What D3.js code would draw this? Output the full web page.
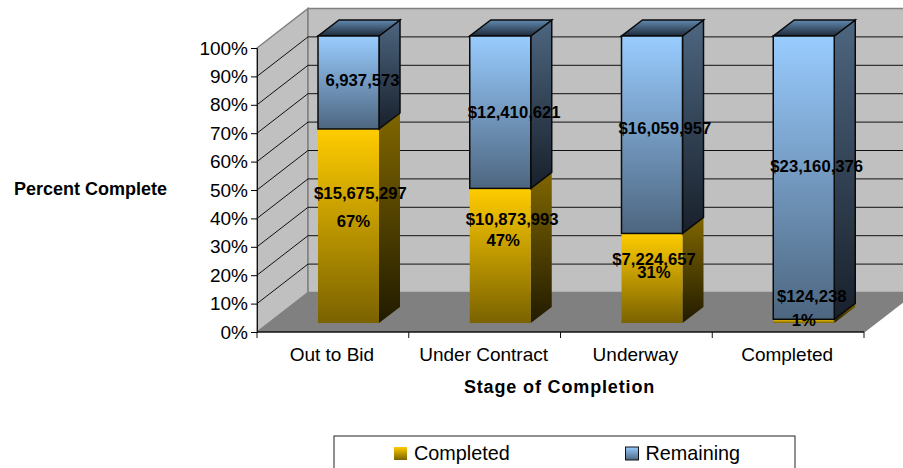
<!DOCTYPE html>
<html>
<head>
<meta charset="utf-8">
<script src="https://cdn.jsdelivr.net/npm/d3@7"></script>
<style>
  body { margin: 0; background: #fff; }
  svg { display: block; }
  text { font-family: "Liberation Sans", Arial, sans-serif; fill: #000; }
  .tick text { font-size: 19px; }
  .bar-label { font-size: 16.7px; font-weight: bold; text-anchor: middle; dominant-baseline: central; }
  .axis-title { font-size: 18px; font-weight: bold; }
</style>
</head>
<body>
<div id="chart"></div>
<script>
const categories = ['Out to Bid', 'Under Contract', 'Underway', 'Completed'];
const completedShare = [67.6, 46.9, 31.2, 1.3];
const completedDollars = ['$15,675,297', '$10,873,993', '$7,224,657', '$124,238'];
const completedPct = ['67%', '47%', '31%', '1%'];
const remainingDollars = ['6,937,573', '$12,410,621', '$16,059,957', '$23,160,376'];
const yTicks = d3.range(0, 101, 10);

const width = 903;
const height = 468;
const svg = d3.select('#chart').append('svg')
  .attr('width', width)
  .attr('height', height);

// plot box and the fake 3d offset of the back wall
const plotL = 257, plotR = 864, plotB = 332, plotT = 48;
const depthX = 51, depthY = -39.5;

const x = d3.scaleBand().domain(categories).range([plotL, plotR]);
const y = d3.scaleLinear().domain([0, 100]).range([plotB, plotT]);
// bars sit a bit inside the floor so they get their own vertical scale
const barY = d3.scaleLinear().domain([0, 100]).range([323, 36]);
const barInset = 61, barW = 61, barDx = 21, barDy = -16;

// gradients
const defs = svg.append('defs');
function gradient(id, c1, c2) {
  const g = defs.append('linearGradient').attr('id', id)
    .attr('x1', 0).attr('y1', 0).attr('x2', 0).attr('y2', 1);
  g.append('stop').attr('offset', '0%').attr('stop-color', c1);
  g.append('stop').attr('offset', '100%').attr('stop-color', c2);
}
gradient('yellowFront', '#FFCC00', '#7A6200');
gradient('yellowSide', '#806600', '#211B00');
gradient('blueFront', '#99CCFF', '#4D6680');
gradient('blueSide', '#4D6680', '#18202B');
gradient('blueTop', '#628AB0', '#1E2A38');

const pts = a => a.map(p => p.join(',')).join(' ');

// walls and floor
const walls = svg.append('g');
walls.append('polygon')
  .attr('points', pts([[plotL, plotT], [plotL + depthX, plotT + depthY], [plotL + depthX, plotB + depthY], [plotL, plotB]]))
  .attr('fill', '#C0C0C0').attr('stroke', '#808080').attr('stroke-width', 1.5);
walls.append('polygon')
  .attr('points', pts([[plotL + depthX, plotT + depthY], [plotR + depthX, plotT + depthY], [plotR + depthX, plotB + depthY], [plotL + depthX, plotB + depthY]]))
  .attr('fill', '#C0C0C0').attr('stroke', '#808080').attr('stroke-width', 1.5);

// gridlines, side wall then back wall
const inner = yTicks.slice(1, -1);
const grid = svg.append('g').attr('stroke', '#111').attr('stroke-width', 1);
grid.selectAll('.side').data(inner).join('line')
  .attr('class', 'side')
  .attr('x1', plotL).attr('x2', plotL + depthX)
  .attr('y1', d => y(d)).attr('y2', d => y(d) + depthY);
grid.selectAll('.back').data(inner).join('line')
  .attr('class', 'back')
  .attr('x1', plotL + depthX).attr('x2', plotR + depthX)
  .attr('y1', d => y(d) + depthY).attr('y2', d => y(d) + depthY);

const floor = svg.append('g');
floor.append('polygon')
  .attr('points', pts([[plotL, plotB], [plotR, plotB], [plotR + depthX, plotB + depthY], [plotL + depthX, plotB + depthY]]))
  .attr('fill', '#808080');
floor.append('line')
  .attr('x1', plotR).attr('y1', plotB).attr('x2', plotR + depthX).attr('y2', plotB + depthY)
  .attr('stroke', '#808080').attr('stroke-width', 1.5);

// one 3d segment: front, side, and optional lid
function segment(g, cat, from, to, fills, stroke, lid) {
  const x0 = x(cat) + barInset, x1 = x0 + barW;
  const yA = barY(from), yB = barY(to);
  g.append('polygon')
    .attr('points', pts([[x1, yB], [x1 + barDx, yB + barDy], [x1 + barDx, yA + barDy], [x1, yA]]))
    .attr('fill', `url(#${fills.side})`).attr('stroke', stroke).attr('stroke-width', 1.5);
  if (lid) {
    g.append('polygon')
      .attr('points', pts([[x0, yB], [x1, yB], [x1 + barDx, yB + barDy], [x0 + barDx, yB + barDy]]))
      .attr('fill', 'url(#blueTop)').attr('stroke', stroke).attr('stroke-width', 1.5);
  }
  g.append('rect')
    .attr('x', x0).attr('y', yB)
    .attr('width', barW).attr('height', yA - yB)
    .attr('fill', `url(#${fills.front})`).attr('stroke', stroke).attr('stroke-width', 1.5);
}

const bars = svg.append('g');
categories.forEach((c, i) => {
  const g = bars.append('g');
  segment(g, c, 0, completedShare[i], { front: 'yellowFront', side: 'yellowSide' }, 'none', false);
  segment(g, c, completedShare[i], 100, { front: 'blueFront', side: 'blueSide' }, '#0a0a0a', true);
});

// axes
const yAxis = d3.axisLeft(y).tickValues(yTicks).tickFormat(d => d + '%').tickSize(6).tickPadding(3);
svg.append('g').attr('transform', `translate(${plotL},0)`).call(yAxis)
  .call(g => g.select('.domain').attr('stroke', '#111'));
const xAxis = d3.axisBottom(x).tickSize(0).tickPadding(16);
const xg = svg.append('g').attr('transform', `translate(0,${plotB})`).call(xAxis);
xg.select('.domain').attr('d', `M${plotL},0H${plotR}`).attr('stroke', '#111').attr('stroke-width', 1.5);
xg.selectAll('.tick text').attr('dx', -1);
xg.selectAll('.sep').data(x.domain()).join('line')
  .attr('class', 'sep')
  .attr('x1', d => x(d) + x.bandwidth()).attr('x2', d => x(d) + x.bandwidth())
  .attr('y1', 0).attr('y2', 6).attr('stroke', '#111');
xg.append('line').attr('x1', plotL).attr('x2', plotL).attr('y1', 0).attr('y2', 6).attr('stroke', '#111');

// data labels: centred on their segment, then nudged to where the original put them
const frontMid = c => x(c) + barInset + barW / 2;
const remainingNudge = [[14, -2], [14, 0], [13, -6], [13, -11]];
const completedNudge = [[12, -32], [12, -36], [2, -19], [8, -25]];
const pctNudge = [[5, -4], [3, -15], [2, -6], [0, -1]];
const labels = svg.append('g');
categories.forEach((c, i) => {
  const s = completedShare[i];
  labels.append('text').attr('class', 'bar-label')
    .attr('x', frontMid(c) + remainingNudge[i][0])
    .attr('y', barY((s + 100) / 2) + remainingNudge[i][1])
    .text(remainingDollars[i]);
  labels.append('text').attr('class', 'bar-label')
    .attr('x', frontMid(c) + completedNudge[i][0])
    .attr('y', barY(s / 2) + completedNudge[i][1])
    .text(completedDollars[i]);
  labels.append('text').attr('class', 'bar-label')
    .attr('x', frontMid(c) + pctNudge[i][0])
    .attr('y', barY(s / 2) + pctNudge[i][1])
    .text(completedPct[i]);
});

// titles
svg.append('text').attr('class', 'axis-title')
  .attr('x', 14).attr('y', 195)
  .text('Percent Complete');
svg.append('text').attr('class', 'axis-title')
  .attr('x', 559.5).attr('y', 393).attr('text-anchor', 'middle')
  .attr('letter-spacing', 0.85)
  .text('Stage of Completion');

// legend, the bottom edge falls off the page like the original
const legend = svg.append('g');
legend.append('rect')
  .attr('x', 334).attr('y', 436).attr('width', 461).attr('height', 40)
  .attr('fill', '#fff').attr('stroke', '#222').attr('stroke-width', 1);
const legendItems = [
  { name: 'Completed', fill: 'yellowFront', stroke: 'none', at: 394 },
  { name: 'Remaining', fill: 'blueFront', stroke: '#111', at: 625.5 }
];
legendItems.forEach(d => {
  legend.append('rect')
    .attr('x', d.at).attr('y', 447).attr('width', 13).attr('height', 13)
    .attr('fill', `url(#${d.fill})`).attr('stroke', d.stroke);
  legend.append('text')
    .attr('x', d.at + 20).attr('y', 460)
    .attr('font-size', 19.8)
    .text(d.name);
});
</script>
</body>
</html>
